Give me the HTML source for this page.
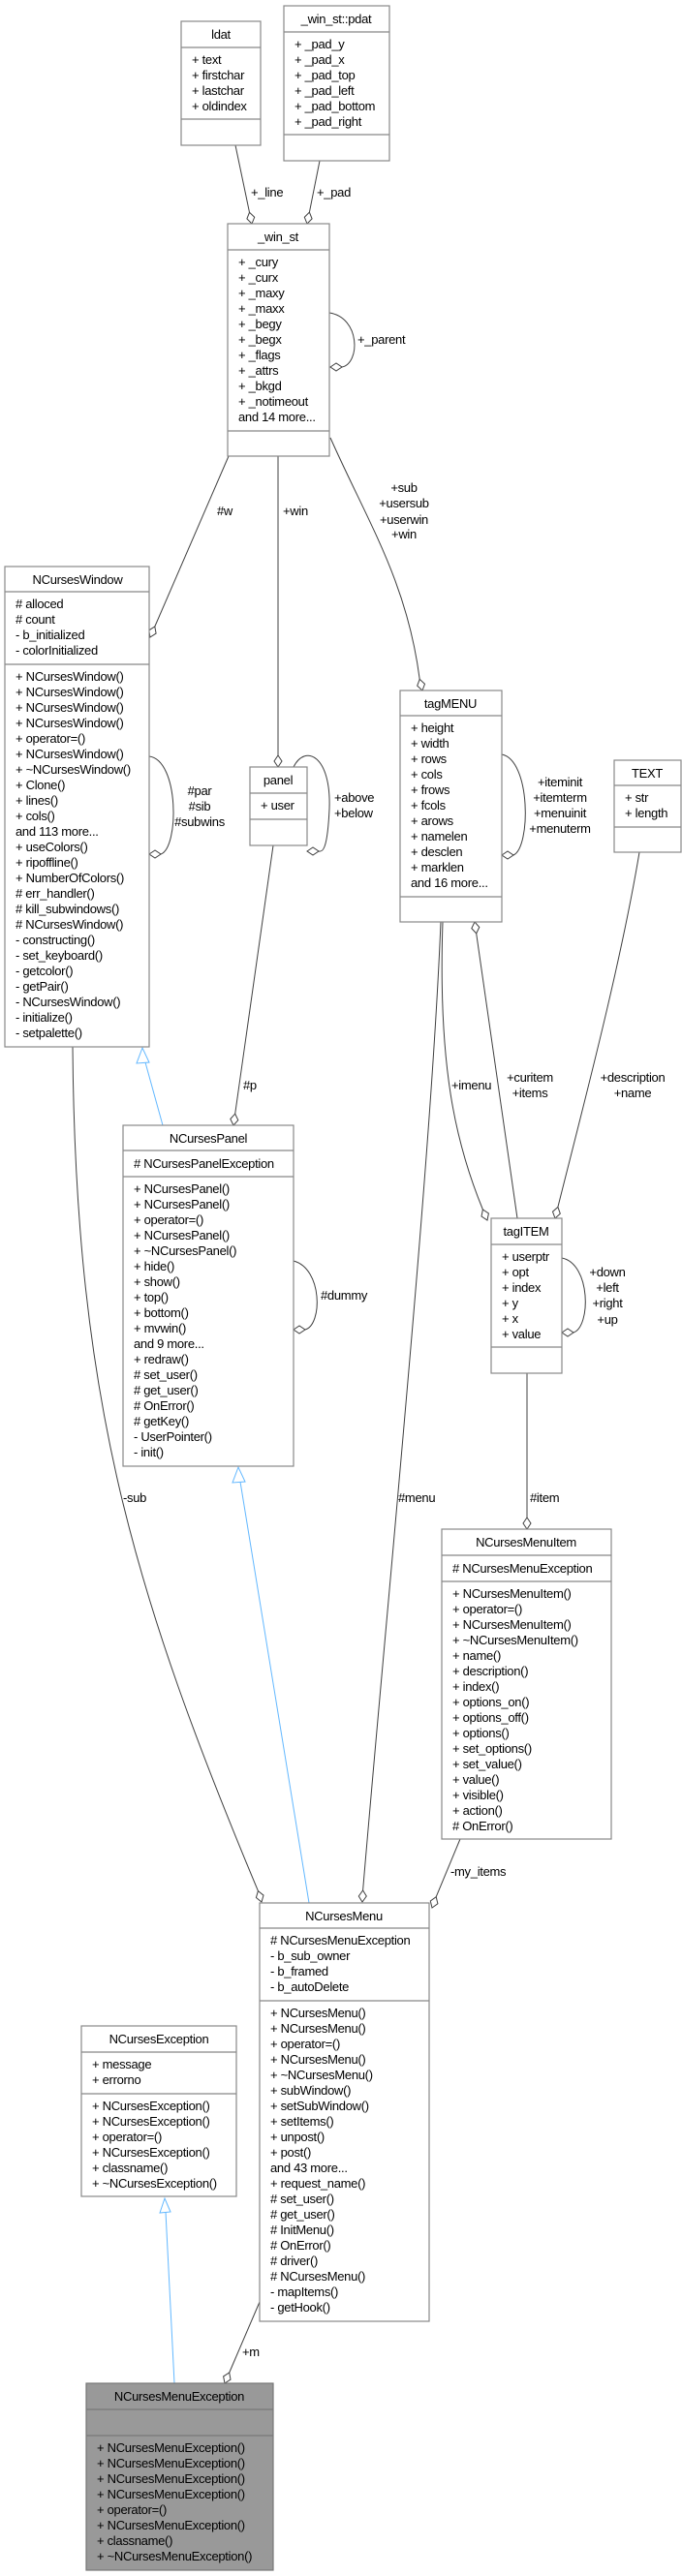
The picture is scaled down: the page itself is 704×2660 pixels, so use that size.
<!DOCTYPE html>
<html><head><meta charset="utf-8"><style>
html,body{margin:0;padding:0;background:#fff;}
svg{display:block;}
text{font-family:"Liberation Sans",sans-serif;font-size:13px;fill:#000;letter-spacing:-0.3px;}
.b{fill:#fff;stroke:#888;stroke-width:1.2;}
.d{stroke:#888;stroke-width:1.2;}
.l{fill:none;stroke:#404040;stroke-width:1;}
.dm{fill:#fff;stroke:#404040;stroke-width:1;}
.i{fill:none;stroke:#63b8ff;stroke-width:1;}
.ia{fill:#fff;stroke:#63b8ff;stroke-width:1;}
.c{text-anchor:middle;}
</style></head><body>
<svg width="704" height="2660" viewBox="0 0 704 2660" xmlns="http://www.w3.org/2000/svg">

<!-- connectors -->
<path class="l" d="M243 150 L257.5 219.3"/>
<polygon class="dm" points="260,231 262.7,224.3 257.5,219.3 254.9,225.9"/>
<path class="l" d="M330 166 L319.4 219.2"/>
<polygon class="dm" points="317,231 322.1,225.9 319.4,219.2 314.3,224.3"/>
<path class="l" d="M340 323 C372 328,372 375,353 379"/>
<polygon class="dm" points="341,379 347,375 353,379 347,383"/>
<path class="l" d="M236 471 L159.8 647"/>
<polygon class="dm" points="155,658 161.1,654.1 159.8,647 153.7,650.9"/>
<path class="l" d="M287 471 L287 780"/>
<polygon class="dm" points="287,792 291,786 287,780 283,786"/>
<path class="l" d="M341 452 C380 540,420 600,433.2 701.4"/>
<polygon class="dm" points="436,713 438.5,706.3 433.2,701.4 430.7,708.1"/>
<path class="l" d="M154 781 C185 785,185 875,166 882"/>
<polygon class="dm" points="154,882 160,878 166,882 160,886"/>
<path class="l" d="M303 792 C315 768,342 780,340 835 C338 878,333 880,329 879"/>
<polygon class="dm" points="317,879 323,875 329,879 323,883"/>
<path class="l" d="M518 779 C548 785,548 875,530 883"/>
<polygon class="dm" points="518,883 524,879 530,883 524,887"/>
<path class="l" d="M282 873 L242.7 1150.1"/>
<polygon class="dm" points="241,1162 245.8,1156.7 242.7,1150.1 237.8,1155.5"/>
<path class="i" d="M168 1162 L150 1097"/>
<polygon class="ia" points="147,1082 141,1098 154,1097"/>
<path class="l" d="M75 1081 C78 1450,140 1650,266.4 1952.6"/>
<polygon class="dm" points="270,1964 272,1957.1 266.4,1952.6 264.4,1959.5"/>
<path class="i" d="M319 1965 L248 1530"/>
<polygon class="ia" points="246,1515 240,1531 253,1530"/>
<path class="l" d="M455 952 C445 1200,400 1650,374.6 1952"/>
<polygon class="dm" points="374,1964 378.3,1958 374.6,1952 370.3,1958"/>
<path class="l" d="M457 952 C452 1100,470 1180,498.4 1249"/>
<polygon class="dm" points="503,1260 504.4,1253 498.4,1249 497,1256"/>
<path class="l" d="M491.7 963.9 L534 1258"/>
<polygon class="dm" points="490,952 494.8,957.4 491.7,963.9 486.8,958.6"/>
<path class="l" d="M660 880 C640 1000,600 1150,575.9 1246.4"/>
<polygon class="dm" points="573,1258 578.3,1253.2 575.9,1246.4 570.5,1251.2"/>
<path class="l" d="M580 1299 C610 1305,610 1370,592 1376"/>
<polygon class="dm" points="580,1376 586,1372 592,1376 586,1380"/>
<path class="l" d="M544 1418 L544 1567"/>
<polygon class="dm" points="544,1579 548,1573 544,1567 540,1573"/>
<path class="l" d="M303 1302 C333 1310,333 1368,315 1373"/>
<polygon class="dm" points="303,1373 309,1369 315,1373 309,1377"/>
<path class="l" d="M475 1899 L450.2 1958.7"/>
<polygon class="dm" points="446,1970 451.9,1965.8 450.2,1958.7 444.3,1963"/>
<path class="l" d="M268 2377 L236.7 2450"/>
<polygon class="dm" points="232,2461 238,2457.1 236.7,2450 230.6,2453.9"/>
<path class="i" d="M180 2461 L171 2284"/>
<polygon class="ia" points="170,2270 165,2285 176,2284"/>

<!-- labels -->
<text x="259" y="203">+_line</text>
<text x="327" y="203">+_pad</text>
<text x="369" y="355">+_parent</text>
<text x="224" y="532">#w</text>
<text x="292" y="532">+win</text>
<text class="c" x="417" y="508">+sub</text>
<text class="c" x="417" y="524">+usersub</text>
<text class="c" x="417" y="541">+userwin</text>
<text class="c" x="417" y="556">+win</text>
<text class="c" x="206" y="821">#par</text>
<text class="c" x="206" y="837">#sib</text>
<text class="c" x="206" y="853">#subwins</text>
<text x="345" y="828">+above</text>
<text x="345" y="844">+below</text>
<text class="c" x="578" y="812">+iteminit</text>
<text class="c" x="578" y="828">+itemterm</text>
<text class="c" x="578" y="844">+menuinit</text>
<text class="c" x="578" y="860">+menuterm</text>
<text x="251" y="1125">#p</text>
<text x="466" y="1125">+imenu</text>
<text class="c" x="547" y="1117">+curitem</text>
<text class="c" x="547" y="1133">+items</text>
<text class="c" x="653" y="1117">+description</text>
<text class="c" x="653" y="1133">+name</text>
<text x="331" y="1342">#dummy</text>
<text class="c" x="627" y="1318">+down</text>
<text class="c" x="627" y="1334">+left</text>
<text class="c" x="627" y="1350">+right</text>
<text class="c" x="627" y="1367">+up</text>
<text x="127" y="1551">-sub</text>
<text x="411" y="1551">#menu</text>
<text x="547" y="1551">#item</text>
<text x="465" y="1937">-my_items</text>
<text x="250" y="2433">+m</text>

<!-- ldat -->
<rect class="b" x="187" y="22" width="82" height="128"/>
<line class="d" x1="187" y1="49" x2="269" y2="49"/><line class="d" x1="187" y1="123" x2="269" y2="123"/>
<text class="c" x="228" y="40">ldat</text>
<text x="198" y="66">+ text</text><text x="198" y="82">+ firstchar</text><text x="198" y="98">+ lastchar</text><text x="198" y="114">+ oldindex</text>

<!-- pdat -->
<rect class="b" x="293" y="6" width="109" height="160"/>
<line class="d" x1="293" y1="33" x2="402" y2="33"/><line class="d" x1="293" y1="139" x2="402" y2="139"/>
<text class="c" x="347" y="24">_win_st::pdat</text>
<text x="304" y="50">+ _pad_y</text><text x="304" y="66">+ _pad_x</text><text x="304" y="82">+ _pad_top</text><text x="304" y="98">+ _pad_left</text><text x="304" y="114">+ _pad_bottom</text><text x="304" y="130">+ _pad_right</text>

<!-- _win_st -->
<rect class="b" x="235" y="231" width="105" height="240"/>
<line class="d" x1="235" y1="258" x2="340" y2="258"/><line class="d" x1="235" y1="445" x2="340" y2="445"/>
<text class="c" x="287" y="249">_win_st</text>
<text x="246" y="275">+ _cury</text><text x="246" y="291">+ _curx</text><text x="246" y="307">+ _maxy</text><text x="246" y="323">+ _maxx</text><text x="246" y="339">+ _begy</text><text x="246" y="355">+ _begx</text><text x="246" y="371">+ _flags</text><text x="246" y="387">+ _attrs</text><text x="246" y="403">+ _bkgd</text><text x="246" y="419">+ _notimeout</text><text x="246" y="435">and 14 more...</text>

<!-- NCursesWindow -->
<rect class="b" x="5" y="585" width="149" height="496"/>
<line class="d" x1="5" y1="611" x2="154" y2="611"/><line class="d" x1="5" y1="686" x2="154" y2="686"/>
<text class="c" x="80" y="603">NCursesWindow</text>
<text x="16" y="628"># alloced</text>
<text x="16" y="644"># count</text><text x="16" y="660">- b_initialized</text><text x="16" y="676">- colorInitialized</text>
<text x="16" y="703">+ NCursesWindow()</text><text x="16" y="719">+ NCursesWindow()</text><text x="16" y="735">+ NCursesWindow()</text><text x="16" y="751">+ NCursesWindow()</text><text x="16" y="767">+ operator=()</text><text x="16" y="783">+ NCursesWindow()</text><text x="16" y="799">+ ~NCursesWindow()</text><text x="16" y="815">+ Clone()</text><text x="16" y="831">+ lines()</text><text x="16" y="847">+ cols()</text><text x="16" y="863">and 113 more...</text><text x="16" y="879">+ useColors()</text><text x="16" y="895">+ ripoffline()</text><text x="16" y="911">+ NumberOfColors()</text><text x="16" y="927"># err_handler()</text><text x="16" y="943"># kill_subwindows()</text><text x="16" y="959"># NCursesWindow()</text><text x="16" y="975">- constructing()</text><text x="16" y="991">- set_keyboard()</text><text x="16" y="1007">- getcolor()</text><text x="16" y="1023">- getPair()</text><text x="16" y="1039">- NCursesWindow()</text><text x="16" y="1055">- initialize()</text><text x="16" y="1071">- setpalette()</text>

<!-- panel -->
<rect class="b" x="258" y="792" width="59" height="81"/>
<line class="d" x1="258" y1="819" x2="317" y2="819"/><line class="d" x1="258" y1="846" x2="317" y2="846"/>
<text class="c" x="287" y="810">panel</text>
<text x="269" y="836">+ user</text>

<!-- tagMENU -->
<rect class="b" x="413" y="713" width="105" height="239"/>
<line class="d" x1="413" y1="739" x2="518" y2="739"/><line class="d" x1="413" y1="926" x2="518" y2="926"/>
<text class="c" x="465" y="731">tagMENU</text>
<text x="424" y="756">+ height</text><text x="424" y="772">+ width</text><text x="424" y="788">+ rows</text><text x="424" y="804">+ cols</text><text x="424" y="820">+ frows</text><text x="424" y="836">+ fcols</text><text x="424" y="852">+ arows</text><text x="424" y="868">+ namelen</text><text x="424" y="884">+ desclen</text><text x="424" y="900">+ marklen</text><text x="424" y="916">and 16 more...</text>

<!-- TEXT -->
<rect class="b" x="634" y="785" width="69" height="95"/>
<line class="d" x1="634" y1="811" x2="703" y2="811"/><line class="d" x1="634" y1="854" x2="703" y2="854"/>
<text class="c" x="668" y="803">TEXT</text>
<text x="645" y="828">+ str</text><text x="645" y="844">+ length</text>

<!-- NCursesPanel -->
<rect class="b" x="127" y="1162" width="176" height="352"/>
<line class="d" x1="127" y1="1188" x2="303" y2="1188"/><line class="d" x1="127" y1="1215" x2="303" y2="1215"/>
<text class="c" x="215" y="1180">NCursesPanel</text>
<text x="138" y="1206"># NCursesPanelException</text>
<text x="138" y="1232">+ NCursesPanel()</text><text x="138" y="1248">+ NCursesPanel()</text><text x="138" y="1264">+ operator=()</text><text x="138" y="1280">+ NCursesPanel()</text><text x="138" y="1296">+ ~NCursesPanel()</text><text x="138" y="1312">+ hide()</text><text x="138" y="1328">+ show()</text><text x="138" y="1344">+ top()</text><text x="138" y="1360">+ bottom()</text><text x="138" y="1376">+ mvwin()</text><text x="138" y="1392">and 9 more...</text><text x="138" y="1408">+ redraw()</text><text x="138" y="1424"># set_user()</text><text x="138" y="1440"># get_user()</text><text x="138" y="1456"># OnError()</text><text x="138" y="1472"># getKey()</text><text x="138" y="1488">- UserPointer()</text><text x="138" y="1504">- init()</text>

<!-- tagITEM -->
<rect class="b" x="507" y="1258" width="73" height="160"/>
<line class="d" x1="507" y1="1285" x2="580" y2="1285"/><line class="d" x1="507" y1="1391" x2="580" y2="1391"/>
<text class="c" x="543" y="1276">tagITEM</text>
<text x="518" y="1302">+ userptr</text><text x="518" y="1318">+ opt</text><text x="518" y="1334">+ index</text><text x="518" y="1350">+ y</text><text x="518" y="1366">+ x</text><text x="518" y="1382">+ value</text>

<!-- NCursesMenuItem -->
<rect class="b" x="456" y="1579" width="175" height="320"/>
<line class="d" x1="456" y1="1606" x2="631" y2="1606"/><line class="d" x1="456" y1="1633" x2="631" y2="1633"/>
<text class="c" x="543" y="1597">NCursesMenuItem</text>
<text x="467" y="1624"># NCursesMenuException</text>
<text x="467" y="1650">+ NCursesMenuItem()</text><text x="467" y="1666">+ operator=()</text><text x="467" y="1682">+ NCursesMenuItem()</text><text x="467" y="1698">+ ~NCursesMenuItem()</text><text x="467" y="1714">+ name()</text><text x="467" y="1730">+ description()</text><text x="467" y="1746">+ index()</text><text x="467" y="1762">+ options_on()</text><text x="467" y="1778">+ options_off()</text><text x="467" y="1794">+ options()</text><text x="467" y="1810">+ set_options()</text><text x="467" y="1826">+ set_value()</text><text x="467" y="1842">+ value()</text><text x="467" y="1858">+ visible()</text><text x="467" y="1874">+ action()</text><text x="467" y="1890"># OnError()</text>

<!-- NCursesMenu -->
<rect class="b" x="268" y="1965" width="175" height="432"/>
<line class="d" x1="268" y1="1991" x2="443" y2="1991"/><line class="d" x1="268" y1="2066" x2="443" y2="2066"/>
<text class="c" x="355" y="1983">NCursesMenu</text>
<text x="279" y="2008"># NCursesMenuException</text><text x="279" y="2024">- b_sub_owner</text><text x="279" y="2040">- b_framed</text><text x="279" y="2056">- b_autoDelete</text>
<text x="279" y="2083">+ NCursesMenu()</text><text x="279" y="2099">+ NCursesMenu()</text><text x="279" y="2115">+ operator=()</text><text x="279" y="2131">+ NCursesMenu()</text><text x="279" y="2147">+ ~NCursesMenu()</text><text x="279" y="2163">+ subWindow()</text><text x="279" y="2179">+ setSubWindow()</text><text x="279" y="2195">+ setItems()</text><text x="279" y="2211">+ unpost()</text><text x="279" y="2227">+ post()</text><text x="279" y="2243">and 43 more...</text><text x="279" y="2259">+ request_name()</text><text x="279" y="2275"># set_user()</text><text x="279" y="2291"># get_user()</text><text x="279" y="2307"># InitMenu()</text><text x="279" y="2323"># OnError()</text><text x="279" y="2339"># driver()</text><text x="279" y="2355"># NCursesMenu()</text><text x="279" y="2371">- mapItems()</text><text x="279" y="2387">- getHook()</text>

<!-- NCursesException -->
<rect class="b" x="84" y="2092" width="160" height="176"/>
<line class="d" x1="84" y1="2119" x2="244" y2="2119"/><line class="d" x1="84" y1="2162" x2="244" y2="2162"/>
<text class="c" x="164" y="2110">NCursesException</text>
<text x="95" y="2136">+ message</text><text x="95" y="2152">+ errorno</text>
<text x="95" y="2179">+ NCursesException()</text><text x="95" y="2195">+ NCursesException()</text><text x="95" y="2211">+ operator=()</text><text x="95" y="2227">+ NCursesException()</text><text x="95" y="2243">+ classname()</text><text x="95" y="2259">+ ~NCursesException()</text>

<!-- NCursesMenuException -->
<rect x="89" y="2461" width="193" height="193" style="fill:#999;stroke:#777;stroke-width:1.2"/>
<line class="d" x1="89" y1="2488" x2="282" y2="2488" style="stroke:#777"/><line class="d" x1="89" y1="2515" x2="282" y2="2515" style="stroke:#777"/>
<text class="c" x="185" y="2479">NCursesMenuException</text>
<text x="100" y="2532">+ NCursesMenuException()</text><text x="100" y="2548">+ NCursesMenuException()</text><text x="100" y="2564">+ NCursesMenuException()</text><text x="100" y="2580">+ NCursesMenuException()</text><text x="100" y="2596">+ operator=()</text><text x="100" y="2612">+ NCursesMenuException()</text><text x="100" y="2628">+ classname()</text><text x="100" y="2644">+ ~NCursesMenuException()</text>
</svg>
</body></html>
